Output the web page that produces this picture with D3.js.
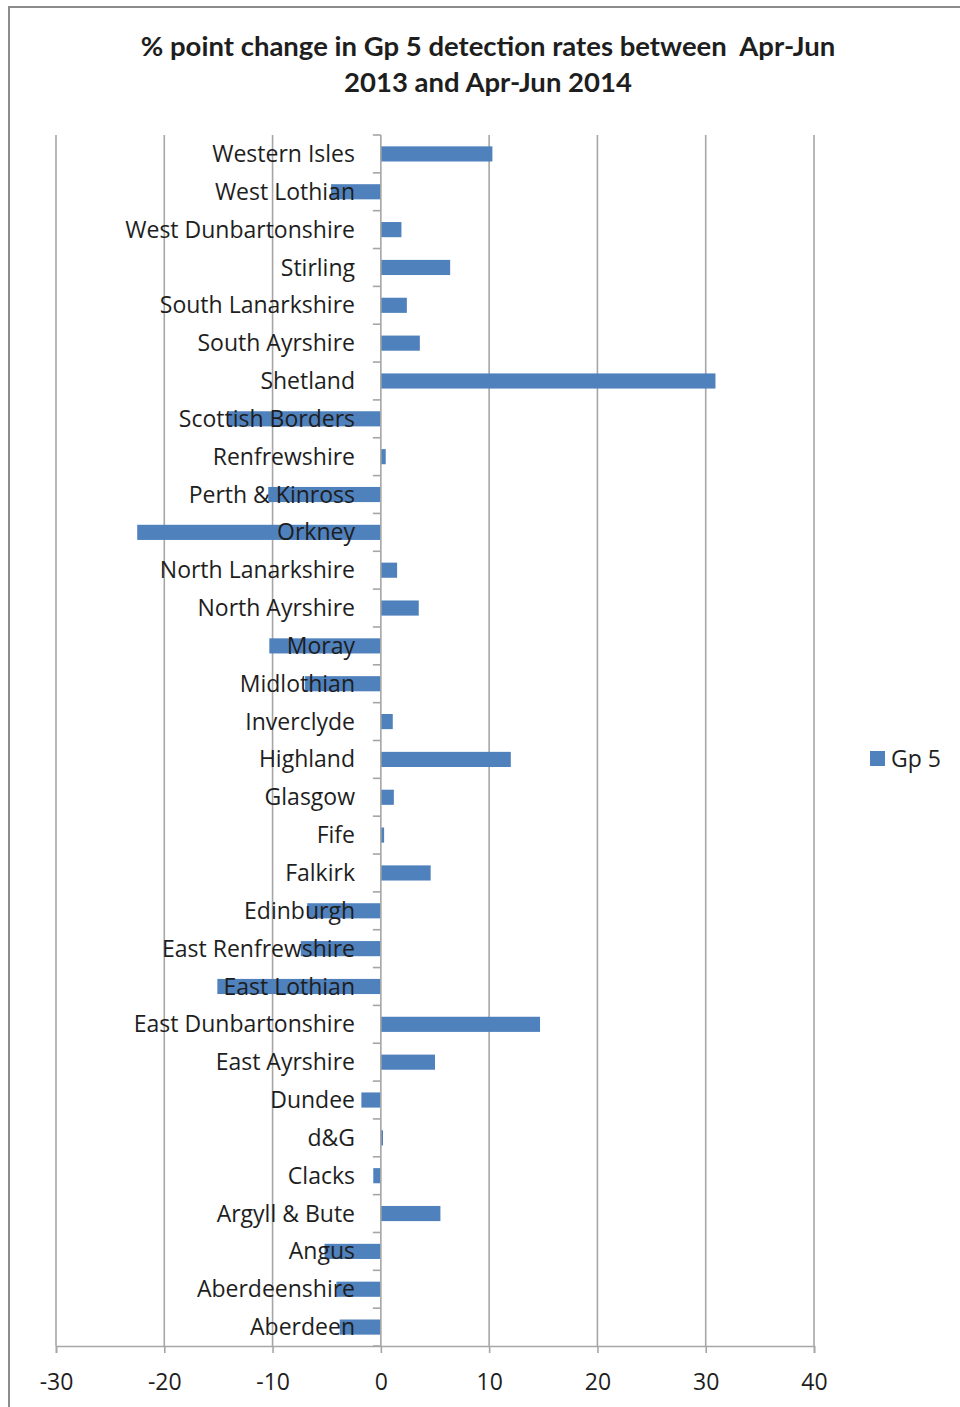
<!DOCTYPE html>
<html>
<head>
<meta charset="utf-8">
<script src="https://cdn.jsdelivr.net/npm/d3@7"></script>
<style>
  html, body { margin: 0; padding: 0; background: #fff; }
  svg { display: block; }
  .title { white-space: pre; }
</style>
</head>
<body>
<svg id="chart" width="960" height="1407"></svg>
<script>
// Council areas, top to bottom
const categories = [
  "Western Isles", "West Lothian", "West Dunbartonshire", "Stirling",
  "South Lanarkshire", "South Ayrshire", "Shetland", "Scottish Borders",
  "Renfrewshire", "Perth & Kinross", "Orkney", "North Lanarkshire",
  "North Ayrshire", "Moray", "Midlothian", "Inverclyde", "Highland",
  "Glasgow", "Fife", "Falkirk", "Edinburgh", "East Renfrewshire",
  "East Lothian", "East Dunbartonshire", "East Ayrshire", "Dundee",
  "d&G", "Clacks", "Argyll & Bute", "Angus", "Aberdeenshire", "Aberdeen"
];

// % point change, Gp 5
const gp5 = [
  10.3, -4.6, 1.9, 6.4,
  2.4, 3.6, 30.9, -14.1,
  0.45, -10.4, -22.5, 1.5,
  3.5, -10.3, -7.0, 1.1, 12.0,
  1.2, 0.3, 4.6, -6.8, -7.4,
  -15.1, 14.7, 5.0, -1.8,
  0.2, -0.7, 5.5, -5.2, -4.1, -3.8
];

const xTicks = [-30, -20, -10, 0, 10, 20, 30, 40];
const seriesName = "Gp 5";
const titleLines = ["% point change in Gp 5 detection rates between  Apr-Jun", "2013 and Apr-Jun 2014"];

const svg = d3.select("#chart");
const textColor = "#1e1e1e";
const gridColor = "#a6a6a6";
const barColor = "#4f81bd";
const labelFont = "'Open Sans', 'Noto Sans', sans-serif";
const labelSize = 23;

// Chart frame
svg.append("rect")
  .attr("x", 9).attr("y", 7)
  .attr("width", 1000).attr("height", 1500)
  .attr("fill", "#fff")
  .attr("stroke", "#8c8c8c").attr("stroke-width", 2);

// Title
svg.append("g").selectAll("text")
  .data(titleLines)
  .join("text")
  .attr("class", "title")
  .attr("x", 488)
  .attr("y", (d, i) => 56 + i * 36)
  .attr("text-anchor", "middle")
  .attr("font-family", "Lato, 'Open Sans', sans-serif")
  .attr("font-weight", "bold")
  .attr("font-size", 27.5)
  .attr("fill", textColor)
  .text(d => d);

const plotTop = 135, plotBottom = 1346;
const x = d3.scaleLinear().domain([-30, 40]).range([56, 814]);
const y = d3.scaleBand().domain(categories).range([plotTop, plotBottom])
  .paddingInner(0.6).paddingOuter(0.3);

// Vertical gridlines
svg.append("g").selectAll("line")
  .data(xTicks.filter(t => t !== 0))
  .join("line")
  .attr("x1", d => x(d)).attr("x2", d => x(d))
  .attr("y1", plotTop).attr("y2", plotBottom)
  .attr("stroke", gridColor).attr("stroke-width", 1.6);

// Bottom value axis
const xAxis = svg.append("g")
  .attr("transform", `translate(0,${plotBottom})`)
  .call(d3.axisBottom(x).tickValues(xTicks).tickSize(7).tickPadding(21).tickFormat(d => String(d)));
xAxis.select(".domain").attr("stroke", gridColor).attr("stroke-width", 1.6);
xAxis.selectAll(".tick line").attr("stroke", gridColor).attr("stroke-width", 1.6);
xAxis.selectAll(".tick text")
  .attr("font-family", labelFont)
  .attr("font-size", labelSize)
  .attr("fill", textColor);

// Bars
svg.append("g").selectAll("rect")
  .data(categories.map((c, i) => ({ c, v: gp5[i] })))
  .join("rect")
  .attr("x", d => Math.min(x(0), x(d.v)))
  .attr("width", d => Math.abs(x(d.v) - x(0)))
  .attr("y", d => y(d.c))
  .attr("height", y.bandwidth())
  .attr("fill", barColor);

// Category axis at zero with boundary ticks
const step = y.step();
const boundaries = d3.range(categories.length + 1).map(i => plotTop + i * step);
svg.append("line")
  .attr("x1", x(0)).attr("x2", x(0))
  .attr("y1", plotTop).attr("y2", plotBottom)
  .attr("stroke", gridColor).attr("stroke-width", 1.6);
svg.append("g").selectAll("line")
  .data(boundaries)
  .join("line")
  .attr("x1", x(0) - 8).attr("x2", x(0))
  .attr("y1", d => d).attr("y2", d => d)
  .attr("stroke", gridColor).attr("stroke-width", 1.6);

// Category labels (drawn above the bars)
svg.append("g").selectAll("text")
  .data(categories)
  .join("text")
  .attr("x", 355)
  .attr("y", d => y(d) + y.bandwidth() / 2)
  .attr("dy", "0.35em")
  .attr("text-anchor", "end")
  .attr("font-family", labelFont)
  .attr("font-size", labelSize)
  .attr("fill", textColor)
  .text(d => d);

// Legend
const legend = svg.append("g").attr("transform", "translate(870,751)");
legend.append("rect").attr("width", 15).attr("height", 15).attr("fill", barColor);
legend.append("text")
  .attr("x", 21).attr("y", 7.5).attr("dy", "0.35em")
  .attr("font-family", labelFont)
  .attr("font-size", labelSize)
  .attr("fill", textColor)
  .text(seriesName);
</script>
</body>
</html>
